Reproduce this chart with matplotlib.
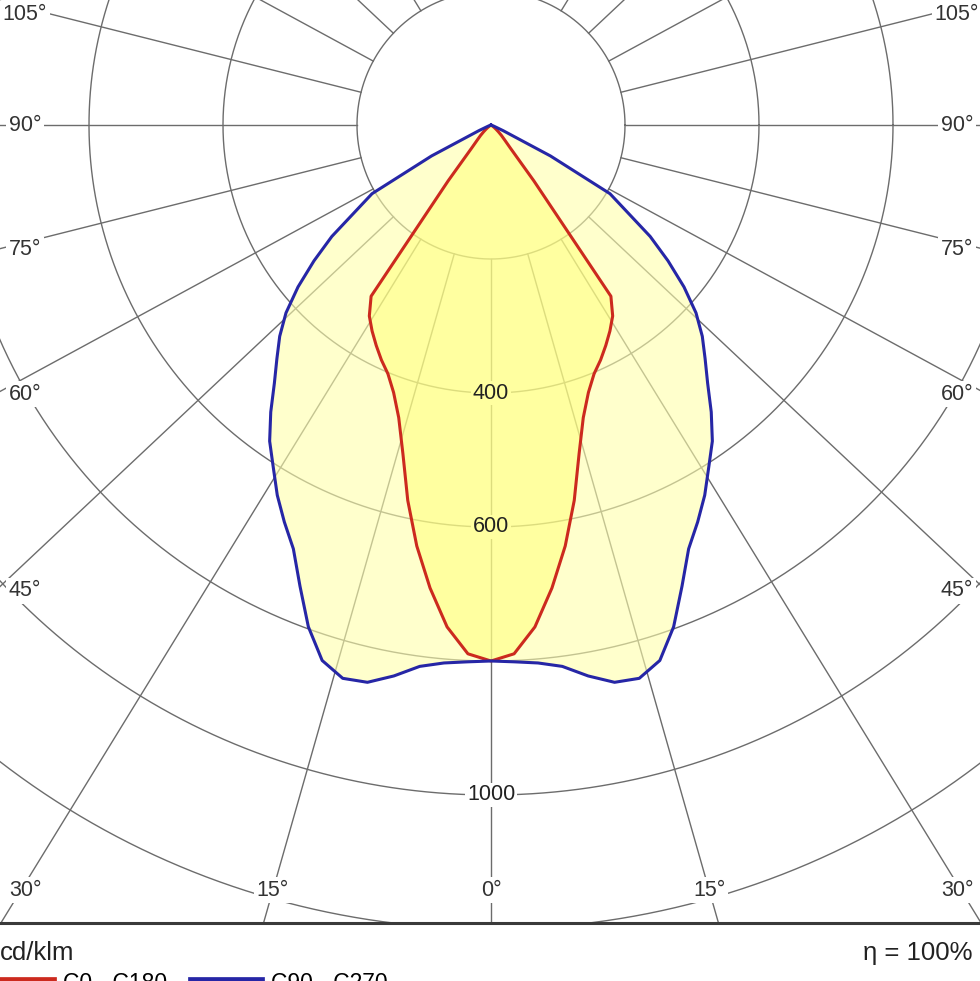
import numpy as np
import matplotlib
matplotlib.use("Agg")
import matplotlib.pyplot as plt
from matplotlib.path import Path

plt.rcParams['font.family'] = ['Liberation Sans', 'DejaVu Sans']

# gamma angle from nadir (deg) and luminous intensity (cd/klm), one half-plane
gamma = [0, 2.5, 5, 7.5, 10, 12.5, 15, 17.5, 20, 22.5, 25, 27.5, 30, 32.5,
         35, 37.5, 40, 42.5, 45, 47.5, 50, 52.5, 55, 57.5, 60, 62.5, 65,
         67.5, 70, 72.5, 75, 77.5, 80, 82.5, 85, 87.5, 90]
c0_c180 = [800, 790, 752, 697, 638, 574, 508, 458, 425, 402, 387, 371, 355,
           338, 312, 105, 45, 30, 22, 15, 10, 6, 3, 0, 0, 0, 0, 0, 0, 0, 0,
           0, 0, 0, 0, 0, 0]
c90_c270 = [800, 802, 806, 815, 835, 852, 855, 838, 797, 745, 698, 668, 638,
            605, 576, 540, 503, 473, 446, 415, 376, 333, 290, 240, 205, 100,
            20, 5, 0, 0, 0, 0, 0, 0, 0, 0, 0]

ring_values = [200, 400, 600, 800, 1000, 1200, 1400, 1600]
ring_labels = [400, 600, 1000]
angle_ticks = list(range(-180, 181, 15))

# picture geometry (pixels)
W, H, DPI = 980, 981, 100
CX, CY = 491, 125      # centre of the diagram
K = 0.67               # px per cd/klm
SQ = 0.94              # radial lines look slightly flattened in the original
FRAME_Y = 923
LAB_HW = 466           # label box half width (px)
LAB_BOTTOM = 765       # label row below the centre (px)

grid_col = '#6c6c6c'
red = '#cc2a1e'
blue = '#2626a6'
outer_eff = '#FFFFCC'
inner_eff = '#FFFFA0'


def px_to_y(py):
    return -(py - CY) / K


def px_to_x(px):
    return (px - CX) / K


def polar_xy(g_deg, r):
    g = np.radians(g_deg)
    return r * np.sin(g), -r * np.cos(g)


def full_curve(vals):
    g = np.array(gamma, dtype=float)
    v = np.array(vals, dtype=float)
    g_all = np.concatenate([-g[::-1], g[1:]])
    v_all = np.concatenate([v[::-1], v[1:]])
    return polar_xy(g_all, v_all)


fig = plt.figure(figsize=(W / DPI, H / DPI), dpi=DPI)
ax = fig.add_axes([0, 0, 1, 1])
ax.set_xlim(px_to_x(0), px_to_x(W))
ax.set_ylim(px_to_y(H), px_to_y(0))
ax.axis('off')

# rings
t = np.linspace(0, 2 * np.pi, 1441)
for rv in ring_values:
    ax.plot(rv * np.cos(t), rv * np.sin(t), color=grid_col, lw=1.0, zorder=1)

# radial lines, starting at the first ring, and their labels
for a in angle_ticks:
    g = np.radians(a)
    d = np.array([np.sin(g), -SQ * np.cos(g)])
    d = d / np.hypot(*d)
    p0 = d * ring_values[0]
    p1 = d * 3000
    ax.plot([p0[0], p1[0]], [p0[1], p1[1]], color=grid_col, lw=1.0, zorder=1)

    if abs(a) <= 30:
        # bottom row, at the end of the line
        ly = -LAB_BOTTOM
        lx = np.clip(ly * d[0] / d[1], -LAB_HW, LAB_HW)
    else:
        # side columns
        lx = np.sign(a) * LAB_HW
        ly = -lx / np.tan(g)
        if -30 < CY - ly < 14:
            ly = CY - 14
    px, py = CX + lx, CY - ly
    if not (-30 < px < W + 30 and -30 < py < H):
        continue
    ax.text(px_to_x(px), px_to_y(py), f"{abs(a)}°", fontsize=15.5,
            color='#333333', ha='center', va='center', zorder=6,
            bbox=dict(boxstyle='square,pad=0.12', fc='white', ec='none'))

# light distribution
bx, by = full_curve(c90_c270)
rx, ry = full_curve(c0_c180)
ax.fill(bx, by, color='#FFFFAA', alpha=0.6, lw=0, zorder=2)
ax.fill(rx, ry, color='#FFFF64', alpha=0.42, lw=0, zorder=2)
line_red, = ax.plot(rx, ry, color=red, lw=2.2, zorder=3,
                    solid_joinstyle='round', label='C0 - C180')
line_blue, = ax.plot(bx, by, color=blue, lw=2.2, zorder=3,
                     solid_joinstyle='round', label='C90 - C270')

red_path = Path(np.column_stack([rx, ry]))
blue_path = Path(np.column_stack([bx, by]))
for rv in ring_labels:
    p = (0, -rv)
    if red_path.contains_point(p):
        bg = inner_eff
    elif blue_path.contains_point(p):
        bg = outer_eff
    else:
        bg = 'white'
    ax.text(p[0], p[1], str(rv), fontsize=15.5, color='#222222',
            ha='center', va='center', zorder=6,
            bbox=dict(boxstyle='square,pad=0.08', fc=bg, ec='none'))

# area under the frame
ax.axhspan(px_to_y(H + 50), px_to_y(FRAME_Y), color='white', zorder=4)
ax.axhline(px_to_y(FRAME_Y), color='#3a3a3a', lw=2.2, zorder=5)

ax.text(px_to_x(0), px_to_y(953), 'cd/klm', fontsize=18.5, color='#222222',
        ha='left', va='center', zorder=6)
ax.text(px_to_x(863), px_to_y(953), 'η = 100%', fontsize=18.5,
        color='#222222', ha='left', va='center', zorder=6)

leg = fig.legend(handles=[line_red, line_blue], loc='upper left',
                 bbox_to_anchor=(-14 / W, (H - 972) / H), ncol=2,
                 frameon=False, fontsize=16.5, handlelength=2.9,
                 handletextpad=0.48, columnspacing=1.13, borderpad=0,
                 borderaxespad=0)
for h in leg.legend_handles:
    h.set_linewidth(7)

fig.savefig('out.png', dpi=DPI)
